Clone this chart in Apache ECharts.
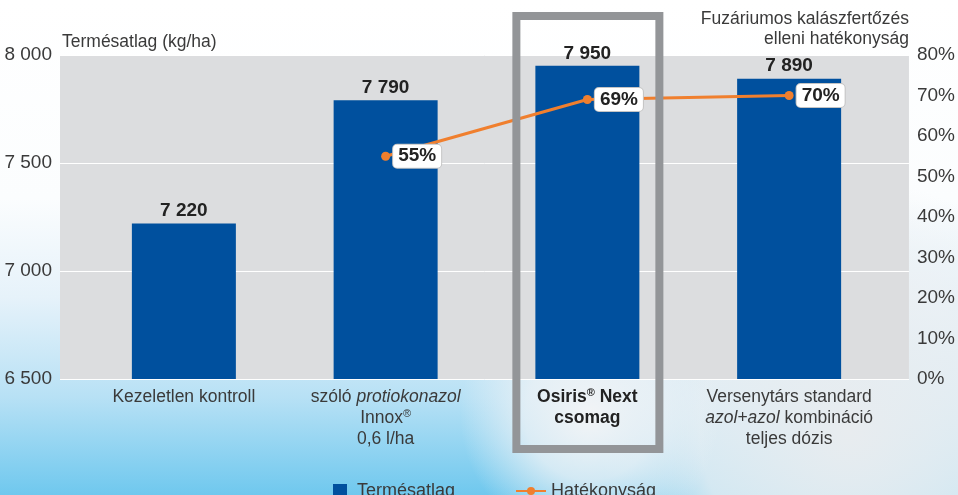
<!DOCTYPE html>
<html>
<head>
<meta charset="utf-8">
<script src="https://cdn.jsdelivr.net/npm/echarts@6/dist/echarts.min.js"></script>
<style>
  html, body { margin: 0; padding: 0; }
  #chart { width: 958px; height: 495px; }
</style>
</head>
<body>
<div id="chart"></div>
<script>
var categories = [
  'Kezeletlen kontroll',
  'szóló {i|protiokonazol}\nInnox{s|®}\n0,6 l/ha',
  '{b|Osiris}{bs|®}{b| Next}\n{b|csomag}',
  'Versenytárs standard\n{i|azol+azol} kombináció\nteljes dózis'
]
var yieldValues = [7220, 7790, 7950, 7890]
var efficacyValues = [null, 55, 69, 70]
var yieldTicks = { min: 6500, max: 8000, interval: 500 }
var pctTicks = { min: 0, max: 80, interval: 10 }

var FONT = 'Liberation Sans, Arial, sans-serif'
var TEXT = '#3a3a3a'

function spaced(v) {
  return String(v).replace(/\B(?=(\d{3})+(?!\d))/g, ' ')
}

var chart = echarts.init(document.getElementById('chart'))

chart.setOption({
  textStyle: { fontFamily: FONT },
  animation: false,
  graphic: [
    {
      type: 'rect', z: -200, silent: true,
      shape: { x: 0, y: 0, width: 958, height: 495 },
      style: {
        fill: {
          type: 'linear', x: 0, y: 0, x2: 0, y2: 1,
          colorStops: [
            { offset: 0, color: '#ffffff' },
            { offset: 0.4, color: '#fbfdfe' },
            { offset: 0.6, color: '#e6f2fa' },
            { offset: 0.8, color: '#b8e1f5' },
            { offset: 1, color: '#6fc8ee' }
          ]
        }
      }
    },
    {
      type: 'circle', z: -150, silent: true,
      shape: { cx: 850, cy: 430, r: 250 },
      style: {
        fill: {
          type: 'radial', x: 0.5, y: 0.5, r: 0.5,
          colorStops: [
            { offset: 0, color: 'rgba(232,236,239,1)' },
            { offset: 0.6, color: 'rgba(236,240,243,0.8)' },
            { offset: 1, color: 'rgba(236,240,243,0)' }
          ]
        }
      }
    },
    {
      type: 'circle', z: -150, silent: true,
      shape: { cx: 590, cy: 415, r: 130 },
      style: {
        fill: {
          type: 'radial', x: 0.5, y: 0.5, r: 0.5,
          colorStops: [
            { offset: 0, color: 'rgba(242,244,246,1)' },
            { offset: 0.5, color: 'rgba(240,243,246,0.75)' },
            { offset: 1, color: 'rgba(240,243,246,0)' }
          ]
        }
      }
    }
  ],
  legend: [
    {
      data: [{ name: 'Termésatlag', icon: 'rect' }],
      left: 328, top: 477,
      itemWidth: 14, itemHeight: 14,
      textStyle: { fontSize: 18, color: TEXT, padding: [0, 0, 0, 5] }
    },
    {
      data: ['Hatékonyság'],
      left: 510, top: 477,
      itemWidth: 30, itemHeight: 10,
      textStyle: { fontSize: 18, color: TEXT, padding: [0, 0, 0, 0] }
    }
  ],
  grid: [
    { left: 60, right: 48, top: 55, bottom: 116, show: true, backgroundColor: '#dcdddf', borderWidth: 0 },
    { left: 83, right: 68, top: 55, bottom: 116 }
  ],
  xAxis: [
    { type: 'category', gridIndex: 0, data: categories, show: false },
    {
      type: 'category', gridIndex: 1, data: categories,
      axisLine: { show: false }, axisTick: { show: false },
      axisLabel: {
        interval: 0, margin: 8, fontSize: 17.5, lineHeight: 21, color: TEXT,
        rich: {
          i: { fontStyle: 'italic', fontSize: 17.5, color: TEXT },
          s: { fontSize: 11, color: TEXT, verticalAlign: 'top', lineHeight: 21 },
          b: { fontWeight: 'bold', fontSize: 17.5, color: '#222' },
          bs: { fontWeight: 'bold', fontSize: 11, color: '#222', verticalAlign: 'top', lineHeight: 21 }
        }
      }
    }
  ],
  yAxis: [
    {
      type: 'value', gridIndex: 0, position: 'left',
      min: yieldTicks.min, max: yieldTicks.max, interval: yieldTicks.interval,
      name: 'Termésatlag (kg/ha)', nameLocation: 'end', nameGap: 4,
      nameTextStyle: { align: 'left', verticalAlign: 'bottom', fontSize: 17.5, color: TEXT, padding: [0, 0, 0, 2] },
      axisLine: { show: false }, axisTick: { show: false },
      axisLabel: { fontSize: 19, color: TEXT, margin: 8, formatter: spaced },
      splitLine: { lineStyle: { color: '#ffffff', width: 1 } }
    },
    {
      type: 'value', gridIndex: 0, position: 'right',
      min: pctTicks.min, max: pctTicks.max, interval: pctTicks.interval,
      name: 'Fuzáriumos kalászfertőzés\nelleni hatékonyság', nameLocation: 'end', nameGap: 6,
      nameTextStyle: { align: 'right', verticalAlign: 'bottom', fontSize: 17.5, lineHeight: 20, color: TEXT },
      axisLine: { show: false }, axisTick: { show: false },
      axisLabel: { fontSize: 19, color: TEXT, margin: 8, formatter: '{value}%' },
      splitLine: { show: false }
    },
    { type: 'value', gridIndex: 1, min: yieldTicks.min, max: yieldTicks.max, show: false, splitLine: { show: false } },
    { type: 'value', gridIndex: 1, min: pctTicks.min, max: pctTicks.max, show: false, splitLine: { show: false } }
  ],
  series: [
    {
      name: 'Termésatlag', type: 'bar',
      xAxisIndex: 1, yAxisIndex: 2,
      data: yieldValues,
      barWidth: 104,
      itemStyle: { color: '#00509e' },
      label: {
        show: true, position: 'top', distance: 3,
        fontSize: 19, fontWeight: 'bold', color: '#222',
        formatter: function (p) { return spaced(p.value) }
      }
    },
    {
      name: 'Hatékonyság', type: 'line',
      xAxisIndex: 1, yAxisIndex: 3,
      data: efficacyValues,
      connectNulls: false,
      symbol: 'circle', symbolSize: 9,
      itemStyle: { color: '#f07f2e' },
      lineStyle: { color: '#f07f2e', width: 3 },
      z: 5,
      label: {
        show: true, position: 'right', distance: 3,
        fontSize: 19, fontWeight: 'bold', color: '#222',
        backgroundColor: '#ffffff', borderColor: '#c4c4c4', borderWidth: 1, borderRadius: 4,
        padding: [3, 5, 1, 5],
        formatter: '{c}%'
      }
    }
  ]
})

// highlight frame around the Osiris column
var cx = chart.convertToPixel({ xAxisIndex: 1 }, categories[2])
chart.setOption({
  graphic: [
    {
      id: 'frame', type: 'rect', z: 10, silent: true,
      shape: { x: cx - 71, y: 16, width: 143, height: 433 },
      style: { fill: null, stroke: '#939598', lineWidth: 8 }
    }
  ]
})
</script>
</body>
</html>
